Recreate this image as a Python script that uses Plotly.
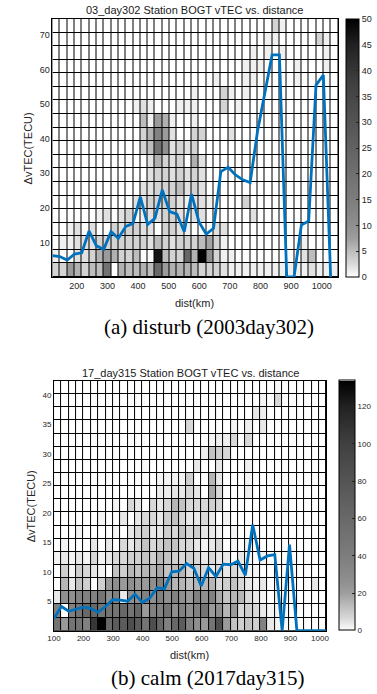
import numpy as np
import plotly.graph_objects as go

# ---------------- (a) disturb, 2003 day 302 ----------------
dist_a_first, dist_a_last = 120.6, 1053.0      # km, grid extent
dvtec_a_top = 74.6                             # TECU
n_cols_a, n_rows_a = 39, 19
cmax_a = 50

# counts per cell, rows from bottom (row 0) to top (row 18), 39 columns each
count_a = [
    [3, 3, 8, 6, 3, 5, 5, 19, 0, 6, 5, 5, 6, 5, 23, 8, 6, 6, 6, 5, 3, 3, 3, 2, 1, 1, 1, 1, 1, 1, 1, 1, 1, 1, 1, 2, 1, 1, 1],
    [1, 0, 0, 2, 2, 3, 6, 8, 6, 3, 3, 5, 0, 0, 47, 5, 3, 3, 23, 6, 50, 10, 3, 1, 1, 0, 0, 0, 0, 0, 0, 0, 0, 0, 2, 5, 0, 0, 0],
    [0, 1, 1, 2, 2, 2, 3, 3, 3, 3, 3, 3, 3, 2, 5, 3, 2, 3, 3, 3, 5, 7, 3, 1, 0, 0, 0, 0, 0, 0, 0, 0, 0, 0, 1, 0, 0, 0, 0],
    [0, 0, 1, 2, 0, 2, 0, 0, 3, 2, 3, 3, 2, 2, 0, 3, 3, 2, 1, 0, 0, 0, 2, 2, 0, 0, 0, 0, 0, 0, 0, 0, 0, 0, 0, 0, 0, 0, 0],
    [0, 0, 0, 0, 0, 0, 1, 2, 0, 2, 3, 0, 1, 2, 2, 3, 3, 2, 0, 2, 2, 0, 0, 0, 0, 0, 0, 2, 0, 0, 0, 0, 0, 0, 0, 0, 0, 0, 0],
    [0, 0, 0, 0, 0, 0, 0, 0, 0, 0, 0, 2, 2, 3, 3, 3, 3, 2, 1, 2, 2, 1, 0, 0, 0, 0, 3, 0, 0, 0, 0, 0, 0, 0, 0, 0, 0, 0, 0],
    [0, 0, 0, 0, 0, 0, 0, 0, 0, 0, 0, 0, 2, 2, 3, 3, 3, 5, 2, 3, 2, 0, 0, 0, 0, 0, 0, 0, 0, 0, 0, 0, 0, 0, 0, 0, 0, 0, 0],
    [0, 0, 0, 0, 0, 0, 0, 0, 0, 0, 0, 0, 0, 2, 3, 3, 2, 3, 2, 3, 2, 0, 0, 0, 0, 0, 0, 0, 0, 0, 0, 0, 0, 0, 0, 0, 0, 0, 0],
    [0, 0, 0, 0, 0, 0, 0, 0, 0, 0, 0, 0, 0, 2, 6, 3, 2, 3, 0, 6, 2, 0, 0, 0, 0, 0, 0, 0, 0, 0, 0, 0, 0, 0, 0, 0, 0, 0, 0],
    [0, 0, 0, 0, 0, 0, 0, 0, 0, 0, 0, 0, 3, 5, 19, 10, 2, 3, 2, 3, 0, 0, 0, 0, 0, 0, 0, 0, 0, 0, 0, 0, 0, 0, 0, 0, 0, 0, 0],
    [0, 0, 0, 0, 0, 0, 0, 0, 0, 0, 0, 0, 3, 6, 14, 8, 2, 0, 0, 3, 3, 0, 0, 0, 2, 0, 0, 0, 0, 0, 0, 0, 0, 0, 0, 0, 0, 0, 0],
    [0, 0, 0, 0, 0, 0, 0, 0, 0, 0, 0, 0, 5, 1, 8, 6, 1, 0, 0, 1, 0, 0, 0, 0, 0, 0, 0, 0, 0, 0, 0, 0, 0, 0, 0, 0, 0, 0, 0],
    [0, 0, 0, 0, 0, 0, 0, 0, 0, 0, 0, 1, 2, 1, 0, 0, 0, 1, 1, 1, 0, 0, 0, 3, 0, 1, 0, 0, 0, 0, 0, 0, 0, 0, 0, 0, 0, 0, 0],
    [0, 0, 0, 0, 0, 0, 0, 0, 0, 0, 0, 0, 0, 0, 0, 0, 0, 0, 0, 1, 0, 0, 0, 3, 1, 0, 1, 0, 0, 0, 0, 0, 0, 0, 0, 0, 0, 0, 0],
    [0, 0, 0, 0, 0, 0, 0, 0, 0, 0, 0, 0, 0, 0, 0, 0, 0, 0, 0, 0, 0, 0, 1, 0, 0, 0, 1, 1, 0, 0, 0, 0, 0, 1, 0, 0, 0, 0, 0],
    [0, 0, 0, 0, 0, 0, 0, 0, 0, 0, 0, 0, 0, 0, 0, 0, 0, 0, 0, 0, 0, 0, 0, 0, 0, 0, 1, 1, 1, 0, 0, 0, 0, 1, 0, 0, 0, 1, 0],
    [0, 0, 0, 0, 0, 0, 0, 0, 0, 0, 0, 0, 0, 0, 0, 0, 0, 0, 0, 0, 0, 0, 0, 0, 0, 0, 0, 1, 0, 1, 0, 1, 0, 0, 0, 0, 0, 1, 0],
    [0, 0, 0, 0, 0, 0, 0, 0, 0, 0, 0, 0, 0, 0, 0, 0, 0, 0, 0, 0, 0, 0, 0, 0, 0, 0, 0, 0, 0, 1, 1, 0, 0, 0, 0, 0, 3, 1, 0],
    [0, 0, 0, 0, 0, 0, 0, 0, 0, 0, 0, 0, 0, 0, 0, 0, 0, 0, 0, 0, 0, 0, 0, 0, 0, 0, 0, 0, 0, 0, 3, 1, 0, 0, 0, 0, 0, 0, 0],
]

# blue curve, one value per grid line (from the left edge)
median_a = [6.2, 5.9, 4.9, 6.6, 7.0, 13.3, 9.0, 8.0, 13.1, 11.2,
            14.6, 15.5, 23.2, 15.2, 17.0, 25.2, 18.9, 18.2, 13.1, 24.0,
            16.0, 12.4, 14.1, 30.5, 31.7, 29.5, 28.1, 27.3, 42.0, 53.0,
            64.2, 64.2, 0.0, 0.0, 15.0, 16.2, 55.5, 58.4, 0.0]

xticks_a = [200, 300, 400, 500, 600, 700, 800, 900, 1000]
yticks_a = [10, 20, 30, 40, 50, 60, 70]
cbticks_a = [0, 5, 10, 15, 20, 25, 30, 35, 40, 45, 50]

# ---------------- (b) calm, 2017 day 315 ----------------
dist_b_first, dist_b_last = 100.0, 1021.3
dvtec_b_top = 42.4
n_cols_b, n_rows_b = 37, 19
cmax_b = 134

count_b = [
    [49, 22, 49, 49, 37, 107, 134, 61, 73, 73, 86, 73, 49, 86, 61, 37, 61, 73, 37, 27, 22, 49, 86, 22, 12, 9, 12, 9, 37, 4, 2, 1, 0, 0, 0, 0, 0],
    [37, 0, 37, 49, 61, 61, 49, 49, 49, 61, 49, 61, 22, 37, 37, 49, 27, 37, 27, 37, 49, 22, 27, 15, 22, 7, 9, 7, 4, 2, 2, 0, 0, 0, 0, 0, 0],
    [4, 27, 27, 37, 37, 37, 49, 27, 37, 4, 27, 27, 37, 27, 37, 27, 37, 27, 22, 37, 27, 37, 18, 12, 15, 15, 7, 4, 2, 0, 2, 0, 0, 0, 0, 0, 0],
    [0, 15, 4, 12, 9, 0, 9, 22, 27, 22, 27, 22, 22, 27, 37, 22, 15, 15, 12, 15, 15, 15, 7, 9, 12, 7, 4, 2, 4, 0, 0, 0, 0, 0, 0, 4, 0],
    [0, 9, 2, 9, 7, 4, 2, 0, 12, 9, 15, 12, 15, 15, 18, 12, 15, 15, 7, 9, 7, 4, 7, 4, 7, 4, 2, 2, 0, 0, 0, 0, 0, 0, 0, 0, 0],
    [2, 4, 2, 4, 2, 7, 2, 4, 7, 7, 9, 9, 12, 9, 15, 12, 9, 7, 9, 7, 4, 7, 4, 4, 0, 4, 2, 0, 2, 0, 0, 0, 0, 0, 0, 0, 0],
    [0, 2, 0, 0, 0, 4, 0, 4, 0, 7, 4, 7, 12, 7, 9, 12, 12, 7, 7, 4, 2, 4, 7, 0, 2, 0, 2, 0, 0, 0, 0, 0, 0, 0, 0, 0, 0],
    [0, 0, 0, 2, 0, 0, 0, 0, 2, 0, 4, 7, 9, 4, 4, 9, 7, 12, 7, 9, 4, 4, 2, 0, 2, 0, 0, 0, 0, 0, 0, 0, 0, 0, 0, 0, 0],
    [0, 0, 0, 0, 0, 0, 2, 0, 0, 4, 0, 4, 7, 7, 4, 9, 12, 7, 4, 4, 7, 4, 0, 2, 0, 0, 0, 0, 0, 0, 0, 0, 0, 0, 0, 0, 0],
    [0, 0, 0, 0, 0, 0, 0, 0, 2, 0, 7, 4, 0, 7, 4, 7, 15, 12, 7, 7, 7, 9, 7, 0, 0, 0, 0, 0, 0, 0, 0, 2, 0, 0, 0, 0, 0],
    [0, 0, 0, 0, 0, 0, 0, 0, 0, 0, 0, 0, 0, 0, 3, 3, 4, 4, 7, 4, 0, 18, 7, 0, 0, 0, 3, 0, 0, 0, 0, 0, 0, 0, 0, 0, 0],
    [0, 0, 0, 0, 0, 0, 0, 0, 0, 0, 0, 0, 0, 0, 2, 2, 2, 2, 9, 0, 0, 15, 4, 0, 0, 0, 2, 0, 0, 0, 0, 0, 0, 0, 0, 0, 0],
    [0, 0, 0, 0, 0, 0, 0, 0, 0, 0, 0, 0, 1, 0, 0, 0, 0, 0, 0, 4, 0, 0, 4, 0, 0, 0, 3, 0, 0, 0, 0, 0, 0, 0, 0, 0, 0],
    [0, 0, 0, 0, 0, 0, 0, 0, 0, 0, 0, 0, 0, 0, 0, 0, 0, 0, 0, 0, 3, 12, 9, 7, 0, 0, 0, 0, 0, 0, 0, 0, 0, 0, 0, 0, 0],
    [0, 0, 0, 0, 0, 0, 0, 0, 0, 0, 0, 0, 0, 0, 0, 0, 0, 0, 0, 0, 0, 2, 3, 3, 7, 0, 7, 0, 0, 0, 0, 0, 0, 0, 0, 0, 0],
    [0, 0, 0, 0, 0, 0, 0, 0, 0, 0, 0, 0, 0, 0, 0, 0, 0, 0, 7, 0, 0, 0, 0, 0, 2, 0, 3, 0, 4, 0, 0, 0, 0, 0, 0, 0, 0],
    [0, 0, 0, 0, 0, 0, 0, 0, 0, 0, 0, 0, 0, 0, 0, 0, 0, 0, 0, 0, 0, 0, 0, 0, 0, 0, 0, 4, 3, 0, 0, 0, 0, 0, 0, 0, 0],
    [0, 0, 0, 0, 0, 0, 0, 0, 0, 0, 0, 0, 0, 0, 0, 0, 0, 0, 0, 0, 0, 0, 0, 0, 0, 0, 0, 0, 2, 0, 7, 0, 0, 0, 0, 0, 0],
    [0, 0, 0, 0, 0, 0, 0, 0, 0, 0, 0, 0, 0, 0, 0, 0, 0, 0, 0, 0, 0, 0, 0, 0, 0, 0, 0, 0, 0, 0, 1, 0, 0, 0, 0, 0, 0],
]

median_b = [2.1, 4.1, 3.3, 3.6, 4.0, 3.8, 3.1, 4.1, 5.3, 5.2,
            5.0, 6.2, 4.8, 5.5, 7.3, 7.1, 10.0, 10.1, 11.4, 10.6,
            7.6, 10.7, 9.2, 11.3, 11.2, 11.8, 9.4, 18.0, 12.0, 12.7,
            12.9, 0.0, 14.6, 0.0, 0.0, 0.0, 0.0, 0.0]

xticks_b = [100, 200, 300, 400, 500, 600, 700, 800, 900, 1000]
yticks_b = [5, 10, 15, 20, 25, 30, 35, 40]
cbticks_b = [0, 20, 40, 60, 80, 100, 120]

# grey map (white -> black), as seen on the colour bars
gray_pos = [0.0, 0.05, 0.10, 0.15, 0.20, 0.30, 0.45, 0.60, 0.75, 0.90, 1.0]
gray_lvl = [1.0, 0.85, 0.74, 0.62, 0.56, 0.49, 0.41, 0.33, 0.25, 0.13, 0.0]
colorscale = [[p, "rgb({0},{0},{0})".format(int(round(g * 255)))] for p, g in zip(gray_pos, gray_lvl)]

# ---------------- build ----------------
W, H = 377, 694
TXT = "#262626"
SANS = "Liberation Sans, Arial, sans-serif"
SERIF = "Liberation Serif, Times New Roman, serif"


def px_x(v):
    return v / W


def px_y(v):
    return 1 - v / H


xa = np.linspace(dist_a_first, dist_a_last, n_cols_a + 1)
ya = np.linspace(0, dvtec_a_top, n_rows_a + 1)
xb = np.linspace(dist_b_first, dist_b_last, n_cols_b + 1)
yb = np.linspace(0, dvtec_b_top, n_rows_b + 1)

fig = go.Figure()

fig.add_trace(go.Heatmap(
    x=xa, y=ya, z=count_a, zmin=0, zmax=cmax_a, colorscale=colorscale,
    xgap=1, ygap=1, xaxis="x", yaxis="y", hoverinfo="skip",
    colorbar=dict(
        x=px_x(348.5), xanchor="left", xpad=0, ypad=0,
        y=px_y(148), yanchor="middle", len=(277 - 19) / H, lenmode="fraction",
        thickness=13, thicknessmode="pixels",
        outlinecolor="black", outlinewidth=1,
        tickvals=cbticks_a, ticks="inside", ticklen=3, tickcolor=TXT,
        tickfont=dict(family=SANS, size=9, color=TXT),
    ),
))
fig.add_trace(go.Scatter(
    x=xa[:len(median_a)], y=median_a, mode="lines",
    line=dict(color="#0072BD", width=2.8), xaxis="x", yaxis="y", hoverinfo="skip",
))

fig.add_trace(go.Heatmap(
    x=xb, y=yb, z=count_b, zmin=0, zmax=cmax_b, colorscale=colorscale,
    xgap=1, ygap=1, xaxis="x2", yaxis="y2", hoverinfo="skip",
    colorbar=dict(
        x=px_x(341), xanchor="left", xpad=0, ypad=0,
        y=px_y(505.5), yanchor="middle", len=(630.3 - 380.7) / H, lenmode="fraction",
        thickness=16, thicknessmode="pixels",
        outlinecolor="black", outlinewidth=1,
        tickvals=cbticks_b, ticks="inside", ticklen=3, tickcolor=TXT,
        tickfont=dict(family=SANS, size=8, color=TXT),
    ),
))
fig.add_trace(go.Scatter(
    x=xb[:len(median_b)], y=median_b, mode="lines",
    line=dict(color="#0072BD", width=2.8), xaxis="x2", yaxis="y2", hoverinfo="skip",
))

axis_common = dict(showgrid=False, zeroline=False, showline=True, mirror=True,
                   linecolor="black", linewidth=1, ticks="", fixedrange=True)

fig.update_layout(
    width=W, height=H, margin=dict(l=0, r=0, t=0, b=0),
    paper_bgcolor="white", plot_bgcolor="black", showlegend=False,
    xaxis=dict(domain=[px_x(46.7), px_x(340)], anchor="y",
               range=[xa[0], xa[-1]], tickvals=xticks_a,
               tickfont=dict(family=SANS, size=9, color=TXT), **axis_common),
    yaxis=dict(domain=[px_y(277), px_y(19)], anchor="x",
               range=[0, dvtec_a_top], tickvals=yticks_a,
               tickfont=dict(family=SANS, size=9, color=TXT), **axis_common),
    xaxis2=dict(domain=[px_x(48.3), px_x(328)], anchor="y2",
                range=[xb[0], xb[-1]], tickvals=xticks_b,
                tickfont=dict(family=SANS, size=8, color=TXT), **axis_common),
    yaxis2=dict(domain=[px_y(630.7), px_y(381)], anchor="x2",
                range=[0, dvtec_b_top], tickvals=yticks_b,
                tickfont=dict(family=SANS, size=8, color=TXT), **axis_common),
)


def note(text, x, y, size, family=SANS, color=TXT, angle=0):
    fig.add_annotation(text=text, x=px_x(x), y=px_y(y), xref="paper", yref="paper",
                       xanchor="center", yanchor="middle", showarrow=False,
                       textangle=angle, font=dict(family=family, size=size, color=color))


note("03_day302 Station BOGT vTEC vs. distance", 193, 10, 11, color="#1a1a1a")
note("dist(km)", 193, 303, 11)
note("ΔvTEC(TECU)", 22, 148, 11, angle=-90)
note("(a) disturb (2003day302)", 208, 327, 21, family=SERIF, color="black")

note("17_day315 Station BOGT vTEC vs. distance", 188, 373, 11, color="#1a1a1a")
note("dist(km)", 187, 655, 11)
note("ΔvTEC(TECU)", 25, 506, 11, angle=-90)
note("(b) calm (2017day315)", 206, 678, 21, family=SERIF, color="black")

fig.write_html("out.html")
